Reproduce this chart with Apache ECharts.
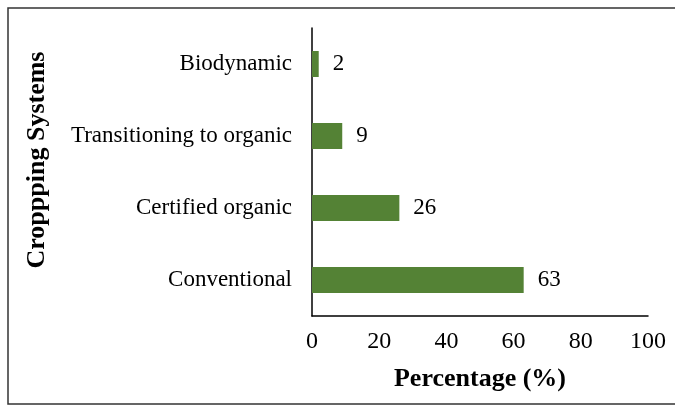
<!DOCTYPE html>
<html>
<head>
<meta charset="utf-8">
<script src="https://cdn.jsdelivr.net/npm/echarts@6/dist/echarts.min.js"></script>
<style>
  html, body { margin: 0; padding: 0; background: #fff; }
  #chart { width: 675px; height: 406px; }
</style>
</head>
<body>
<div id="chart"></div>
<script>
// data, bottom to top like the picture
const categories = ['Conventional', 'Certified organic', 'Transitioning to organic', 'Biodynamic']
const percentages = [63, 26, 9, 2]
const xTicks = [0, 20, 40, 60, 80, 100]

const serif = '"Liberation Serif", "Times New Roman", serif'
const chart = echarts.init(document.getElementById('chart'))

chart.setOption({
  backgroundColor: '#fff',
  animation: false,
  grid: { left: 312, right: 27, top: 28, bottom: 90 },
  graphic: [
    {
      type: 'rect',
      shape: { x: 8, y: 8, width: 680, height: 396 },
      style: { fill: 'none', stroke: '#333', lineWidth: 1.5 }
    },
    {
      // y axis title (spelling kept as in the original figure)
      type: 'text',
      x: 37,
      y: 160,
      rotation: Math.PI / 2,
      style: {
        text: 'Croppping Systems',
        font: 'bold 26px ' + serif,
        fill: '#000',
        align: 'center',
        verticalAlign: 'middle'
      }
    }
  ],
  xAxis: {
    type: 'value',
    min: xTicks[0],
    max: xTicks[xTicks.length - 1],
    interval: 20,
    name: 'Percentage (%)',
    nameLocation: 'middle',
    nameGap: 50,
    nameTextStyle: { fontFamily: serif, fontSize: 26, fontWeight: 'bold', color: '#000' },
    axisLine: { show: true, lineStyle: { color: '#000', width: 1.5 } },
    axisTick: { show: false },
    splitLine: { show: false },
    axisLabel: { fontFamily: serif, fontSize: 24, color: '#000', margin: 14 }
  },
  yAxis: {
    type: 'category',
    data: categories,
    axisLine: { show: true, lineStyle: { color: '#000', width: 1.5 } },
    axisTick: { show: false },
    axisLabel: { fontFamily: serif, fontSize: 23, color: '#000', margin: 20 }
  },
  series: [{
    type: 'bar',
    data: percentages,
    barWidth: 26,
    itemStyle: { color: '#548235' },
    label: {
      show: true,
      position: 'right',
      distance: 14,
      fontFamily: serif,
      fontSize: 23,
      color: '#000'
    }
  }]
})
</script>
</body>
</html>
